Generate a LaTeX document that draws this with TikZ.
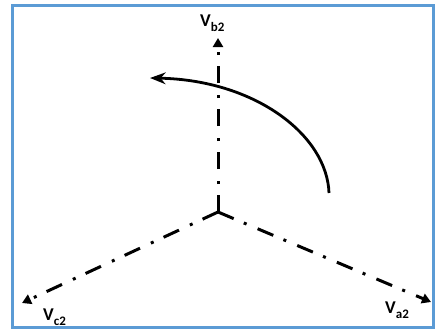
\documentclass[tikz,border=0pt]{standalone}
\usepackage{fontspec}
\setmainfont{Carlito}
\usepackage{tikz}
\usetikzlibrary{arrows.meta}
\definecolor{frameblue}{RGB}{91,155,213}
\newcommand{\phasor}[1]{{\fontsize{18}{20}\selectfont\bfseries V}\raisebox{-5pt}{\fontsize{13}{15}\selectfont\bfseries #1}}

\begin{document}
\begin{tikzpicture}[x=1pt, y=-1pt, >=Stealth,
    axis/.style={line width=3pt, dash pattern=on 17pt off 11pt on 3pt off 12pt, -{Triangle[width=10pt,length=9pt]}},
    lab/.style={inner sep=0pt, anchor=base west}]
    \useasboundingbox (0,0) rectangle (435,329);
    \draw[frameblue, line width=3pt] (12.5,5.5) rectangle (433.5,327.5);
    % star point and phasor tips
    \coordinate (O) at (218,212);
    \coordinate (A) at (431,302);
    \coordinate (B) at (218,38);
    \coordinate (C) at (22,303);
    \draw[axis] (O) -- (A);
    \draw[axis] (O) -- (B);
    \draw[axis] (O) -- (C);
    \node[lab] (la) at (385,313) {\phasor{a2}};
    \node[lab] (lb) at (200,27) {\phasor{b2}};
    \node[lab] (lc) at (43,320) {\phasor{c2}};
    % direction of rotation
    \coordinate (r1) at (329,193);
    \coordinate (r2) at (150,78);
    \draw[->, line width=2.8pt] (r1) .. controls (327,135) and (255,80) .. (r2);
\end{tikzpicture}
\end{document}
